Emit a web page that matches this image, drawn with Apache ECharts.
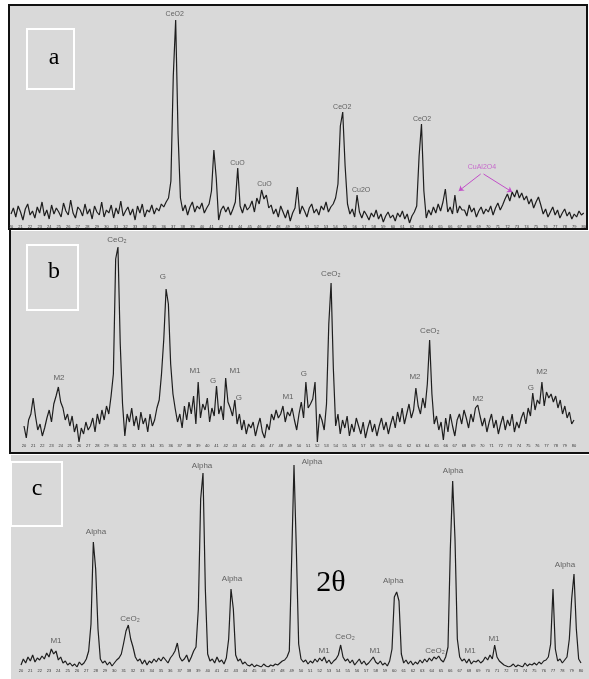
<!DOCTYPE html>
<html>
<head>
<meta charset="utf-8">
<script src="https://cdn.jsdelivr.net/npm/echarts@6/dist/echarts.min.js"></script>
<style>
  html, body { margin: 0; padding: 0; background: #fff; }
  #main { width: 589px; height: 679px; }
</style>
</head>
<body>
<div id="main"></div>
<script>
// 2θ sampling shared by the three patterns
var thetaStart = 20
var thetaStep = 0.25
var thetaMin = 20
var thetaMax = 80

// pattern a
var intensityA = [
  12, 18, 9, 20, 14, 6, 17, 22, 11, 15,
  8, 19, 13, 24, 10, 16, 7, 21, 12, 18,
  14, 9, 23, 15, 11, 26, 13, 8, 19, 16,
  10, 22, 12, 17, 7, 20, 14, 11, 24, 9,
  16, 13, 21, 8, 18, 12, 25, 10, 15, 19,
  11, 17, 6, 20, 13, 22, 9, 16, 14, 21,
  12, 18, 15, 22, 19, 24, 28, 45, 150, 206,
  92, 28, 15, 21, 11, 19, 24, 14, 20, 17,
  23, 13, 18, 22, 35, 76, 48, 6, 16, 20,
  14, 19, 11, 17, 24, 58, 20, 13, 22, 16,
  19, 25, 14, 28, 22, 36, 27, 31, 18, 21,
  12, 17, 9, 20, 14, 8, 16, 5, 13, 18,
  39, 12, 20, 15, 9, 18, 22, 13, 17, 11,
  20, 16, 24, 14, 19, 22, 28, 42, 100, 114,
  60, 22, 12, 17, 9, 31, 14, 8, 15, 11,
  6, 13, 9, 16, 7, 12, 4, 10, 14, 8,
  11, 5, 13, 9, 15, 7, 12, 3, 10, 14,
  20, 70, 102, 35, 8, 16, 11, 19, 13, 22,
  15, 24, 37, 14, 19, 12, 31, 13, 20, 16,
  16, 10, 21, 14, 18, 9, 15, 19, 12, 17,
  14, 20, 11, 18, 23, 16, 21, 27, 32, 25,
  34, 29, 36, 28, 33, 26, 30, 22, 27, 18,
  24, 29, 21, 12, 17, 9, 14, 19, 11, 16,
  8, 13, 17, 10, 14, 7, 12, 9, 15, 11,
  13
]
var peakNamesA = ['CeO2', 'CuO', 'CuO', 'CeO2', 'Cu2O', 'CeO2', 'CuAl2O4']
var peakThetaA = [37.15, 43.72, 46.55, 54.7, 56.68, 63.06, 69.33]
var peakLabelHeightA = [212, 63, 42, 119, 36, 107, 59]
var arrowsA = [
  [[69.2, 52], [66.9, 35]],
  [[69.5, 52], [72.5, 34]]
]

// pattern b
var intensityB = [
  18, 6, 24, 30, 46, 28, 14, 20, 8, 16,
  26, 34, 22, 40, 48, 57, 42, 36, 24, 30,
  18, 28, 12, 20, 2, 16, 10, 22, 14, 18,
  26, 12, 30, 20, 34, 24, 38, 30, 48, 70,
  185, 197, 100, 40, 8, 30, 22, 36, 18, 28,
  14, 32, 20, 26, 12, 30, 18, 24, 36, 44,
  70, 105, 155, 140, 80, 50, 35, 22, 30, 16,
  38, 24, 42, 30, 48, 20, 62, 26, 40, 34,
  46, 22, 36, 28, 58, 30, 38, 24, 66, 42,
  36, 28, 44, 20, 30, 14, 24, 10, 20, 16,
  22, 8, 18, 26, 12, 6, 20, 14, 30, 24,
  34, 26, 30, 38, 22, 32, 28, 36, 24, 14,
  30, 42, 26, 62, 36, 40, 45, 62, 2, 30,
  24, 14, 40, 120, 161, 75, 18, 30, 10, 24,
  16, 28, 8, 20, 12, 26, 18, 10, 22, 6,
  16, 24, 12, 20, 8, 18, 26, 14, 22, 10,
  20, 28, 16, 32, 22, 36, 20, 30, 40, 26,
  34, 56, 38, 30, 46, 36, 60, 104, 50, 20,
  28, 14, 22, 4, 26, 12, 30, 18, 8, 24,
  30, 20, 34, 26, 16, 30, 22, 36, 39, 28,
  18, 26, 12, 22, 30, 16, 24, 10, 20, 28,
  14, 24, 18, 30, 12, 22, 16, 26, 32, 20,
  36, 28, 51, 34, 44, 40, 62, 38, 52, 46,
  50, 42, 48, 36, 44, 30, 38, 26, 32, 20,
  24
]
var peakNamesB = ['M2', 'CeO₂', 'G', 'M1', 'G', 'M1', 'G', 'M1', 'G', 'CeO₂', 'M2', 'CeO₂', 'M2', 'G', 'M2']
var peakThetaB = [23.82, 30.14, 35.16, 38.65, 40.62, 43.02, 43.45, 48.8, 50.54, 53.48, 62.65, 64.28, 69.52, 75.3, 76.5]
var peakLabelHeightB = [66, 204, 167, 73, 63, 73, 46, 47, 70, 170, 67, 113, 45, 56, 72]

// pattern c
var intensityC = [
  4, 10, 6, 12, 8, 14, 7, 11, 9, 13,
  10, 16, 12, 20, 15, 18, 9, 12, 6, 8,
  4, 6, 3, 5, 2, 7, 4, 6, 10, 18,
  45, 127, 100, 40, 10, 6, 8, 4, 7, 3,
  6, 9, 11, 15, 26, 38, 44, 30, 22, 12,
  8, 10, 5, 9, 4, 8, 6, 10, 7, 11,
  8, 12, 9, 6, 11, 14, 18, 26, 12, 8,
  10, 14, 7, 12, 18, 22, 60, 170, 196, 80,
  15, 8, 10, 6, 12, 7, 9, 5, 11, 30,
  80, 60, 14, 8, 10, 5, 7, 4, 3, 5,
  2, 4, 3, 2, 5, 3, 2, 4, 3, 5,
  4, 6, 8, 9, 12, 18, 110, 204, 120, 25,
  10, 7, 9, 5, 8, 6, 10, 7, 11, 8,
  12, 6, 9, 5, 8, 10, 14, 24, 12, 8,
  10, 6, 9, 4, 7, 10, 5, 8, 4, 6,
  9, 12, 7, 5, 8, 4, 6, 3, 8, 20,
  72, 77, 68, 15, 6, 9, 5, 8, 4, 7,
  5, 9, 6, 10, 7, 11, 8, 12, 10, 13,
  9, 7, 12, 22, 120, 188, 130, 30, 12, 8,
  10, 6, 10, 5, 8, 7, 9, 6, 8, 12,
  9, 14, 10, 24, 12, 8, 6, 4, 3, 2,
  3, 5, 2, 4, 3, 2, 6, 3, 5, 4,
  6, 4, 7, 5, 8, 9, 12, 25, 80, 20,
  8, 10, 6, 9, 12, 30, 70, 95, 40, 10,
  6
]
var peakNamesC = ['M1', 'Alpha', 'CeO₂', 'Alpha', 'Alpha', 'Alpha', 'M1', 'CeO₂', 'M1', 'Alpha', 'CeO₂', 'Alpha', 'M1', 'M1', 'Alpha']
var peakThetaC = [23.75, 28.04, 31.68, 39.4, 42.61, 51.18, 52.47, 54.72, 57.93, 59.87, 64.37, 66.29, 68.12, 70.68, 78.29]
var peakLabelHeightC = [28, 137, 50, 203, 90, 207, 18, 32, 18, 88, 18, 198, 18, 30, 104]

var panelLetters = ['a', 'b', 'c']
var axisTitle = '2θ'

var chart = echarts.init(document.getElementById('main'))

function toPoints(values) {
  return values.map(function (v, i) { return [thetaStart + i * thetaStep, v] })
}

function peakLabels(names, theta, heights) {
  return names.map(function (n, j) {
    var item = { name: n, value: [theta[j], heights[j]] }
    if (n === 'CuAl2O4') item.label = { color: '#c24fc8' }
    return item
  })
}

function rulerAxis(idx) {
  return {
    type: 'value', gridIndex: idx, min: thetaMin, max: thetaMax, interval: 1,
    axisLine: { show: false }, axisTick: { show: false }, splitLine: { show: false },
    axisLabel: { fontSize: 4, color: '#333', margin: 2, fontFamily: 'Liberation Sans' }
  }
}

function patternSeries(idx, values) {
  return {
    type: 'line', xAxisIndex: idx, yAxisIndex: idx, data: toPoints(values),
    showSymbol: false, symbol: 'none', silent: true,
    lineStyle: { width: 1.2, color: '#1e1e1e' }
  }
}

function labelSeries(idx, data, size) {
  return {
    type: 'scatter', xAxisIndex: idx, yAxisIndex: idx, data: data,
    symbolSize: 0.1, itemStyle: { color: 'transparent' }, silent: true, z: 5,
    label: { show: true, position: 'inside', formatter: '{b}', fontSize: size, color: '#444', fontFamily: 'Liberation Sans' }
  }
}

var grey = '#d9d9d9'
var option = {
  backgroundColor: '#fff',
  animation: false,
  grid: [
    { left: 11, top: 6, width: 574, height: 217 },
    { left: 24, top: 232, width: 550, height: 210 },
    { left: 21, top: 457, width: 560, height: 210 }
  ],
  xAxis: [rulerAxis(0), rulerAxis(1), rulerAxis(2)],
  yAxis: [
    { gridIndex: 0, min: 3, max: 220, show: false },
    { gridIndex: 1, min: 2, max: 212, show: false },
    { gridIndex: 2, min: 2, max: 212, show: false }
  ],
  series: [
    patternSeries(0, intensityA),
    patternSeries(1, intensityB),
    patternSeries(2, intensityC),
    labelSeries(0, peakLabels(peakNamesA, peakThetaA, peakLabelHeightA), 7),
    labelSeries(1, peakLabels(peakNamesB, peakThetaB, peakLabelHeightB), 8),
    labelSeries(2, peakLabels(peakNamesC, peakThetaC, peakLabelHeightC), 8),
    {
      type: 'lines', coordinateSystem: 'cartesian2d', xAxisIndex: 0, yAxisIndex: 0,
      symbol: ['none', 'arrow'], symbolSize: 5, silent: true,
      lineStyle: { color: '#c24fc8', width: 1, opacity: 1 },
      data: arrowsA.map(function (c) { return { coords: c } })
    }
  ],
  graphic: [
    // panel backgrounds and frames
    { type: 'rect', z: -10, shape: { x: 9, y: 5, width: 578, height: 224 }, style: { fill: grey, stroke: '#111', lineWidth: 2 } },
    { type: 'rect', z: -10, shape: { x: 11, y: 231, width: 578, height: 221 }, style: { fill: grey } },
    { type: 'rect', z: -10, shape: { x: 11, y: 455, width: 578, height: 224 }, style: { fill: grey } },
    { type: 'line', z: 10, shape: { x1: 10, y1: 230, x2: 10, y2: 454 }, style: { stroke: '#111', lineWidth: 2 } },
    { type: 'line', z: 10, shape: { x1: 10, y1: 453, x2: 589, y2: 453 }, style: { stroke: '#111', lineWidth: 2 } },
    // letter boxes
    { type: 'rect', z: 10, shape: { x: 27, y: 29, width: 47, height: 60 }, style: { fill: 'none', stroke: '#fff', lineWidth: 2 } },
    { type: 'rect', z: 10, shape: { x: 27, y: 245, width: 51, height: 65 }, style: { fill: 'none', stroke: '#fff', lineWidth: 2 } },
    { type: 'rect', z: 10, shape: { x: 11, y: 462, width: 51, height: 64 }, style: { fill: 'none', stroke: '#fff', lineWidth: 2 } },
    { type: 'text', z: 10, style: { x: 54, y: 58, text: panelLetters[0], fill: '#000', font: '24px "Liberation Serif"', textAlign: 'center', textVerticalAlign: 'middle' } },
    { type: 'text', z: 10, style: { x: 54, y: 272, text: panelLetters[1], fill: '#000', font: '24px "Liberation Serif"', textAlign: 'center', textVerticalAlign: 'middle' } },
    { type: 'text', z: 10, style: { x: 37, y: 489, text: panelLetters[2], fill: '#000', font: '24px "Liberation Serif"', textAlign: 'center', textVerticalAlign: 'middle' } },
    { type: 'text', z: 10, style: { x: 331, y: 583, text: axisTitle, fill: '#000', font: '30px "Liberation Serif"', textAlign: 'center', textVerticalAlign: 'middle' } }
  ]
}

chart.setOption(option)
</script>
</body>
</html>
